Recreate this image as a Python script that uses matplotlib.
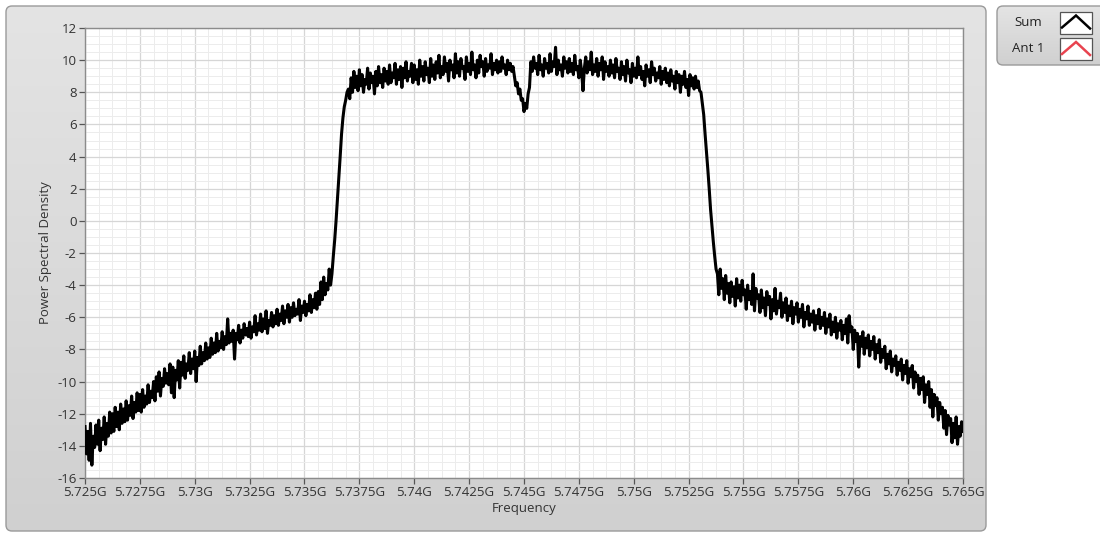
import numpy as np
import matplotlib
matplotlib.use("Agg")
import matplotlib.pyplot as plt
from matplotlib.patches import FancyBboxPatch, Rectangle
from matplotlib.colors import LinearSegmentedColormap
from matplotlib.ticker import MultipleLocator

plt.rcParams['font.family'] = ['Open Sans', 'DejaVu Sans']
plt.rcParams['axes.unicode_minus'] = False

# ---- spectrum (dB), evenly spaced bins from f_start to f_stop ----
f_start, f_stop = 5.725e9, 5.765e9

left_skirt = [
    -12.8, -14.5, -13.1, -14.9, -12.6, -15.2, -13.4, -14.1, -12.7, -13.9,
    -12.4, -14.3, -12.9, -13.6, -12.2, -13.9, -12.6, -13.4, -11.9, -13.2,
    -12.0, -13.1, -11.6, -12.8, -11.9, -13.0, -11.4, -12.6, -11.7, -12.5,
    -11.2, -12.4, -11.5, -12.1, -10.9, -12.3, -11.3, -11.9, -10.7, -11.8,
    -10.8, -11.9, -10.5, -11.6, -10.9, -11.4, -10.2, -11.3, -10.6, -11.0,
    -10.0, -11.2, -9.7, -10.6, -9.4, -10.9, -9.8, -10.3, -9.2, -10.1,
    -9.5, -10.2, -8.9, -10.7, -9.1, -11.0, -9.3, -9.9, -8.7, -10.4,
    -8.8, -9.6, -8.4, -9.8, -8.9, -9.3, -8.2, -9.5, -8.6, -9.2,
    -8.1, -10.0, -8.5, -9.0, -7.8, -8.9, -8.2, -8.7, -7.6, -8.6,
    -7.9, -8.5, -7.3, -8.3, -7.6, -8.2, -7.0, -8.1, -7.5, -7.9,
    -6.9, -8.0, -7.2, -7.7, -6.1, -7.6, -7.0, -7.5, -6.8, -8.6,
    -7.0, -7.4, -6.5, -7.6, -6.8, -7.3, -6.4, -7.1, -6.7, -7.2,
    -6.3, -7.3, -6.6, -6.9, -5.9, -7.1, -6.4, -6.8, -5.8, -6.9,
    -6.1, -6.7, -5.6, -7.0, -6.2, -6.5, -5.7, -6.6, -5.9, -6.4,
    -5.5, -6.5, -5.8, -6.2, -5.3, -6.4, -5.6, -6.0, -5.2, -6.3,
    -5.4, -6.0, -5.1, -5.9, -5.5, -5.8, -4.9, -6.2, -5.3, -5.7,
    -5.0, -5.9, -5.2, -5.6, -4.6, -5.7, -4.9, -5.4, -4.5, -5.5,
    -4.4, -5.2, -3.8, -4.9, -3.5, -4.6, -3.9, -4.3, -3.0, -4.0,
]
rising_edge = [-3.3, -2.2, -1.2, 0.0, 1.3, 2.6, 4.0, 5.4, 6.4, 7.1, 7.5, 8.0]
band_low = [
    8.2, 7.6, 8.9, 8.0, 9.3, 8.3, 9.0, 8.1, 9.4, 8.4,
    9.1, 8.0, 8.8, 8.5, 9.5, 8.2, 9.2, 8.6, 9.0, 7.9,
    9.3, 8.4, 9.6, 8.6, 9.1, 8.3, 9.5, 8.7, 9.3, 8.5,
    9.7, 8.6, 9.2, 8.9, 9.8, 8.5, 9.4, 8.8, 9.6, 8.3,
    9.5, 8.9, 9.9, 8.7, 9.3, 9.0, 9.8, 8.6, 9.7, 8.8,
    9.4, 8.5, 10.0, 9.0, 9.6, 8.7, 9.9, 9.1, 9.5, 8.6,
    10.1, 9.0, 9.7, 8.8, 9.9, 9.2, 10.3, 8.9, 9.6, 9.1,
    10.2, 9.3, 9.8, 8.7, 10.0, 9.4, 9.7, 8.9, 10.4, 9.2,
    9.9, 9.0, 10.1, 9.5, 9.6, 8.8, 10.2, 9.3, 9.8, 9.1,
    10.5, 9.4, 9.7, 8.9, 10.0, 9.2, 10.3, 9.6, 9.9, 9.0,
    10.1, 9.3, 9.7, 9.5, 10.4, 9.1, 9.8, 9.4, 10.0, 9.2,
    9.9, 9.3, 10.2, 9.5, 9.7, 9.1, 10.0, 9.4, 9.8, 9.3,
    9.6,
]
center_notch = [9.0, 8.4, 8.6, 7.9, 8.2, 7.5, 7.6, 6.8, 7.3, 7.0, 7.9, 8.3]
band_high = [
    9.9, 9.3, 10.2, 9.5, 9.8, 9.1, 10.3, 9.4, 9.7, 9.0,
    10.1, 9.5, 9.8, 9.2, 10.4, 9.3, 9.9, 9.6, 10.8, 9.1,
    10.0, 9.4, 9.7, 9.0, 10.2, 9.5, 9.9, 9.2, 10.1, 9.3,
    9.8, 9.1, 10.3, 9.4, 9.6, 8.9, 10.0, 9.3, 8.1, 9.5,
    10.2, 9.2, 9.9, 9.4, 10.5, 9.1, 9.7, 9.3, 10.1, 9.0,
    9.8, 9.4, 10.2, 8.8, 9.9, 9.3, 9.6, 9.0, 10.0, 9.2,
    9.7, 8.9, 10.1, 9.3, 9.5, 8.8, 9.9, 9.1, 9.6, 8.7,
    10.0, 9.2, 9.4, 8.6, 9.8, 9.0, 9.5, 8.9, 10.2, 9.1,
    9.6, 8.8, 9.3, 8.4, 9.7, 9.0, 9.4, 8.6, 9.9, 9.1,
    9.5, 8.7, 9.2, 8.9, 9.6, 8.5, 9.3, 8.8, 9.5, 8.6,
    9.2, 8.4, 9.4, 8.7, 9.0, 8.2, 9.3, 8.6, 9.1, 8.0,
    9.0, 8.5, 9.3, 8.3, 8.8, 7.8, 9.1, 8.4, 8.9, 8.2,
    9.0, 8.3, 8.7, 8.1,
]
falling_edge = [8.0, 7.3, 6.6, 5.4, 4.3, 3.2, 2.0, 0.7, -0.3, -1.3, -2.2, -3.0]
right_skirt = [
    -3.3, -4.6, -3.0, -4.2, -3.6, -4.9, -3.4, -4.5, -3.9, -5.1,
    -3.8, -4.7, -4.1, -5.3, -3.6, -4.8, -4.0, -5.0, -3.7, -4.6,
    -4.3, -5.5, -4.0, -4.9, -4.4, -5.2, -3.3, -5.6, -4.2, -4.8,
    -4.6, -5.7, -4.3, -5.4, -4.8, -5.9, -4.4, -5.2, -4.7, -6.1,
    -4.9, -5.6, -4.2, -5.8, -5.0, -5.4, -4.5, -6.0, -5.1, -5.7,
    -4.8, -6.2, -5.3, -5.9, -5.0, -6.4, -5.4, -5.8, -5.1, -6.3,
    -5.5, -6.0, -5.2, -6.6, -5.7, -6.1, -5.3, -6.5, -5.8, -6.3,
    -5.6, -6.8, -5.9, -6.4, -5.5, -6.7, -6.0, -6.5, -5.7, -7.0,
    -6.1, -6.6, -5.8, -7.1, -6.3, -6.9, -6.0, -7.3, -6.4, -6.8,
    -6.2, -7.4, -6.5, -7.0, -6.1, -7.6, -5.9, -6.9, -6.6, -8.0,
    -6.8, -7.5, -7.0, -9.1, -7.2, -7.8, -6.9, -8.3, -7.3, -7.9,
    -7.1, -8.4, -7.5, -8.0, -7.2, -8.6, -7.7, -8.2, -7.4, -8.8,
    -8.0, -8.5, -7.8, -9.2, -8.3, -8.9, -8.1, -9.4, -8.6, -9.0,
    -8.4, -9.6, -8.8, -9.3, -8.6, -9.9, -9.0, -9.5, -8.7, -10.1,
    -9.2, -9.7, -9.0, -10.4, -9.4, -10.0, -9.6, -10.8, -9.8, -10.5,
    -9.7, -11.3, -10.2, -10.8, -10.0, -11.6, -10.5, -12.2, -10.8, -11.5,
    -11.0, -12.4, -11.3, -12.0, -11.6, -12.9, -11.8, -13.3, -12.1, -12.7,
    -12.3, -13.8, -12.6, -13.5, -12.2, -13.9, -12.8, -13.4, -12.5, -13.1,
]

psd_sum = np.array(left_skirt + rising_edge + band_low + center_notch
                   + band_high + falling_edge + right_skirt)
freq = np.linspace(f_start, f_stop, psd_sum.size)

x_ticks = np.arange(5.725e9, 5.765e9 + 1, 2.5e6)
x_tick_labels = ['5.725G', '5.7275G', '5.73G', '5.7325G', '5.735G', '5.7375G',
                 '5.74G', '5.7425G', '5.745G', '5.7475G', '5.75G', '5.7525G',
                 '5.755G', '5.7575G', '5.76G', '5.7625G', '5.765G']
y_ticks = list(range(-16, 13, 2))

legend_names = ['Sum', 'Ant 1']
legend_colors = ['#000000', '#e8434f']

# ---- figure and panel backgrounds (pixel coordinates) ----
W, H = 1100, 534
fig = plt.figure(figsize=(W / 100, H / 100), dpi=100)
fig.patch.set_facecolor('white')
bg = fig.add_axes([0, 0, 1, 1])
bg.axis('off')

cmap = LinearSegmentedColormap.from_list('panel', ['#e4e4e4', '#d0d0d0'])
grad = np.linspace(0, 1, 256)[:, None]

def gradient_panel(x0, y0, w, h):
    box = FancyBboxPatch((x0, y0), w, h, boxstyle='round,pad=0,rounding_size=6',
                         fc='none', ec='#9a9a9a', lw=1.0, zorder=3)
    bg.add_patch(box)
    im = bg.imshow(grad, extent=(x0, x0 + w, y0 + h, y0), cmap=cmap,
                   aspect='auto', zorder=1)
    im.set_clip_path(box)

gradient_panel(6, 6, 980, 525)
gradient_panel(997, 6, 110, 59)

bg.set_xlim(0, W)
bg.set_ylim(H, 0)

# legend entries
for k, (name, col) in enumerate(zip(legend_names, legend_colors)):
    yc = 22.5 + 26.5 * k
    bg.text(1028, yc, name, ha='center', va='center', fontsize=9.5, color='#222222', zorder=4)
    bg.add_patch(Rectangle((1059.5, yc - 11), 32, 22, fc='white', ec='#555555',
                           lw=0.9, zorder=4))
    bg.plot([1062, 1076, 1090], [yc + 5, yc - 7, yc + 6], color=col, lw=1.8,
            zorder=5, solid_joinstyle='miter')

# ---- plot area ----
ax = fig.add_axes([85 / W, 1 - 478 / H, 878 / W, 450 / H])
ax.set_facecolor('white')
ax.plot(freq, psd_sum, color='black', lw=2.2, zorder=3)

ax.set_xlim(f_start, f_stop)
ax.set_ylim(-16, 12)
ax.set_xticks(x_ticks)
ax.set_xticklabels(x_tick_labels)
ax.set_yticks(y_ticks)
ax.set_yticklabels([str(v) for v in y_ticks])
ax.xaxis.set_minor_locator(MultipleLocator(0.625e6))
ax.yaxis.set_minor_locator(MultipleLocator(0.5))

ax.grid(which='major', color='#d6d6d6', lw=0.9, zorder=0)
ax.grid(which='minor', color='#ececec', lw=0.7, zorder=0)
ax.set_axisbelow(True)

ax.tick_params(which='major', direction='out', length=4.5, width=0.9,
               color='#555555', labelsize=9.5, labelcolor='#333333', pad=1.5)
ax.tick_params(which='minor', length=0)
for s in ax.spines.values():
    s.set_color('#8c8c8c')
    s.set_linewidth(1.0)

ax.set_xlabel('Frequency', fontsize=9.5, color='#333333', labelpad=2)
ax.set_ylabel('Power Spectral Density', fontsize=9.5, color='#333333', labelpad=4)

fig.savefig('out.png', dpi=100, facecolor='white')
